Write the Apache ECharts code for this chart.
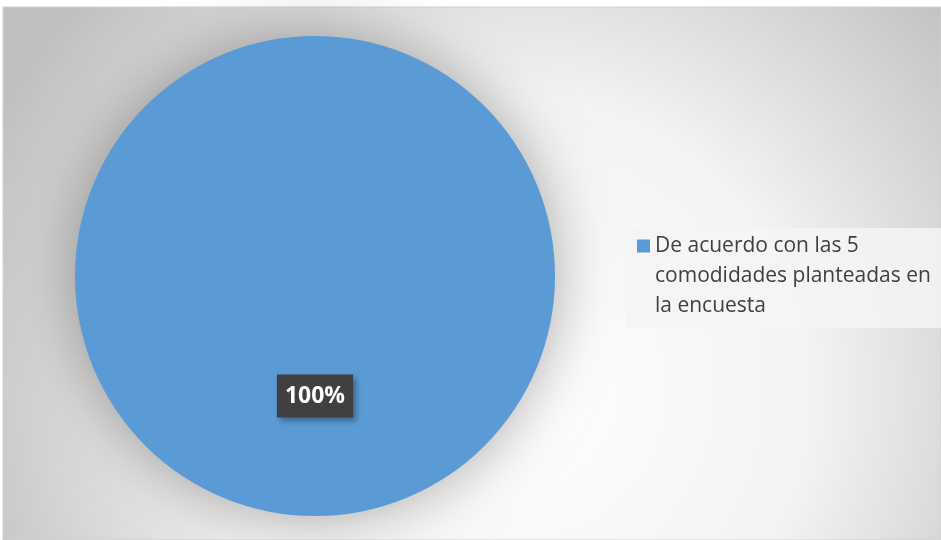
<!DOCTYPE html>
<html>
<head>
<meta charset="utf-8">
<script src="https://cdn.jsdelivr.net/npm/echarts@6/dist/echarts.min.js"></script>
<style>
  html, body { margin: 0; padding: 0; background: #ffffff; }
  #main { width: 941px; height: 540px; }
</style>
</head>
<body>
<div id="main"></div>
<script>
// datos
var categorias = ['De acuerdo con las 5 comodidades planteadas en la encuesta'];
var valores = [100];
var lineasLeyenda = ['De acuerdo con las 5', 'comodidades planteadas en', 'la encuesta'];
var colores = ['#5B9BD5'];

var chart = echarts.init(document.getElementById('main'));

var option = {
    animation: false,
    color: colores,
    graphic: [{
        type: 'rect',
        z: -10,
        shape: { x: 3, y: 7, width: 938, height: 533 },
        style: {
            fill: {
                type: 'radial', x: 0.55, y: 0.72, r: 1.1,
                colorStops: [
                    { offset: 0, color: '#ffffff' },
                    { offset: 0.5, color: '#f3f3f3' },
                    { offset: 1, color: '#c0c0c0' }
                ]
            },
            stroke: '#d0d0d0',
            lineWidth: 1
        }
    }, {
        type: 'rect',
        z: -5,
        shape: { x: 625, y: 228, width: 316, height: 100 },
        style: { fill: 'rgba(244,244,244,0.85)' }
    }],
    legend: {
        left: 637,
        top: 171,
        padding: 0,
        orient: 'vertical',
        itemWidth: 13,
        itemHeight: 13,
        icon: 'rect',
        data: categorias,
        formatter: function () {
            // dos lineas vacias delante para que el icono quede en la primera linea
            return '\n\n' + lineasLeyenda.join('\n');
        },
        textStyle: {
            color: '#404040',
            fontFamily: 'Open Sans',
            fontSize: 21,
            lineHeight: 30
        }
    },
    series: [{
        type: 'pie',
        center: [315, 276],
        radius: [0, 240],
        startAngle: 90,
        silent: true,
        itemStyle: {
            shadowBlur: 60,
            shadowColor: 'rgba(0,0,0,0.33)'
        },
        label: {
            position: 'inside',
            formatter: '{d}%',
            color: '#ffffff',
            fontFamily: 'Open Sans',
            fontWeight: 'bold',
            fontSize: 23,
            backgroundColor: '#404040',
            padding: [10, 8],
            offset: [0, -3],
            shadowBlur: 6,
            shadowOffsetX: 3,
            shadowOffsetY: 3,
            shadowColor: 'rgba(0,0,0,0.35)'
        },
        labelLine: { show: false },
        data: categorias.map(function (c, i) {
            return { name: c, value: valores[i] };
        })
    }]
};

chart.setOption(option);
</script>
</body>
</html>
